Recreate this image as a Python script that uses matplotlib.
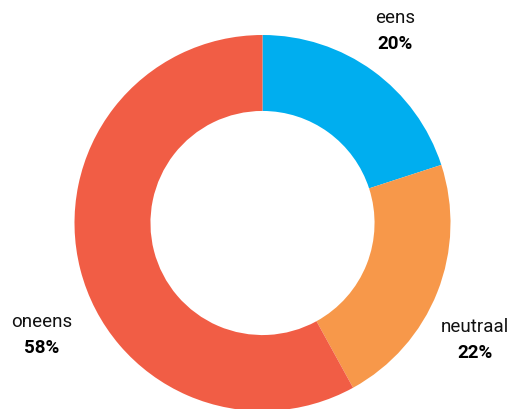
import matplotlib.pyplot as plt

labels = ['eens', 'neutraal', 'oneens']
values = [20, 22, 58]
colors = ['#00AEEF', '#F7984A', '#F15D45']

# donut placement in pixels (center x, center y from top, outer radius)
cx, cy, R = 262.5, 224, 188
W, H = 521, 410

# label centres in pixels
label_px = [(395, 31), (475, 340), (42, 335)]

fig = plt.figure(figsize=(W / 100, H / 100), dpi=100)
ax = fig.add_axes([0, 0, 1, 1])

ax.pie(values, colors=colors, startangle=90, counterclock=False,
       radius=1, wedgeprops=dict(width=0.404, linewidth=0))

for (px, py), lab, v in zip(label_px, labels, values):
    x = (px - cx) / R
    y = (cy - py) / R
    ax.text(x, y + 0.069, lab, ha='center', va='center', fontsize=13.5,
            family='Roboto', color='#111111')
    ax.text(x, y - 0.069, f'{v}%', ha='center', va='center', fontsize=13.5,
            family='Roboto', fontweight='bold', color='#000000')

ax.set_xlim(-cx / R, (W - cx) / R)
ax.set_ylim(-(H - cy) / R, cy / R)
ax.set_aspect('auto')
ax.axis('off')

plt.savefig('out.png', dpi=100)
